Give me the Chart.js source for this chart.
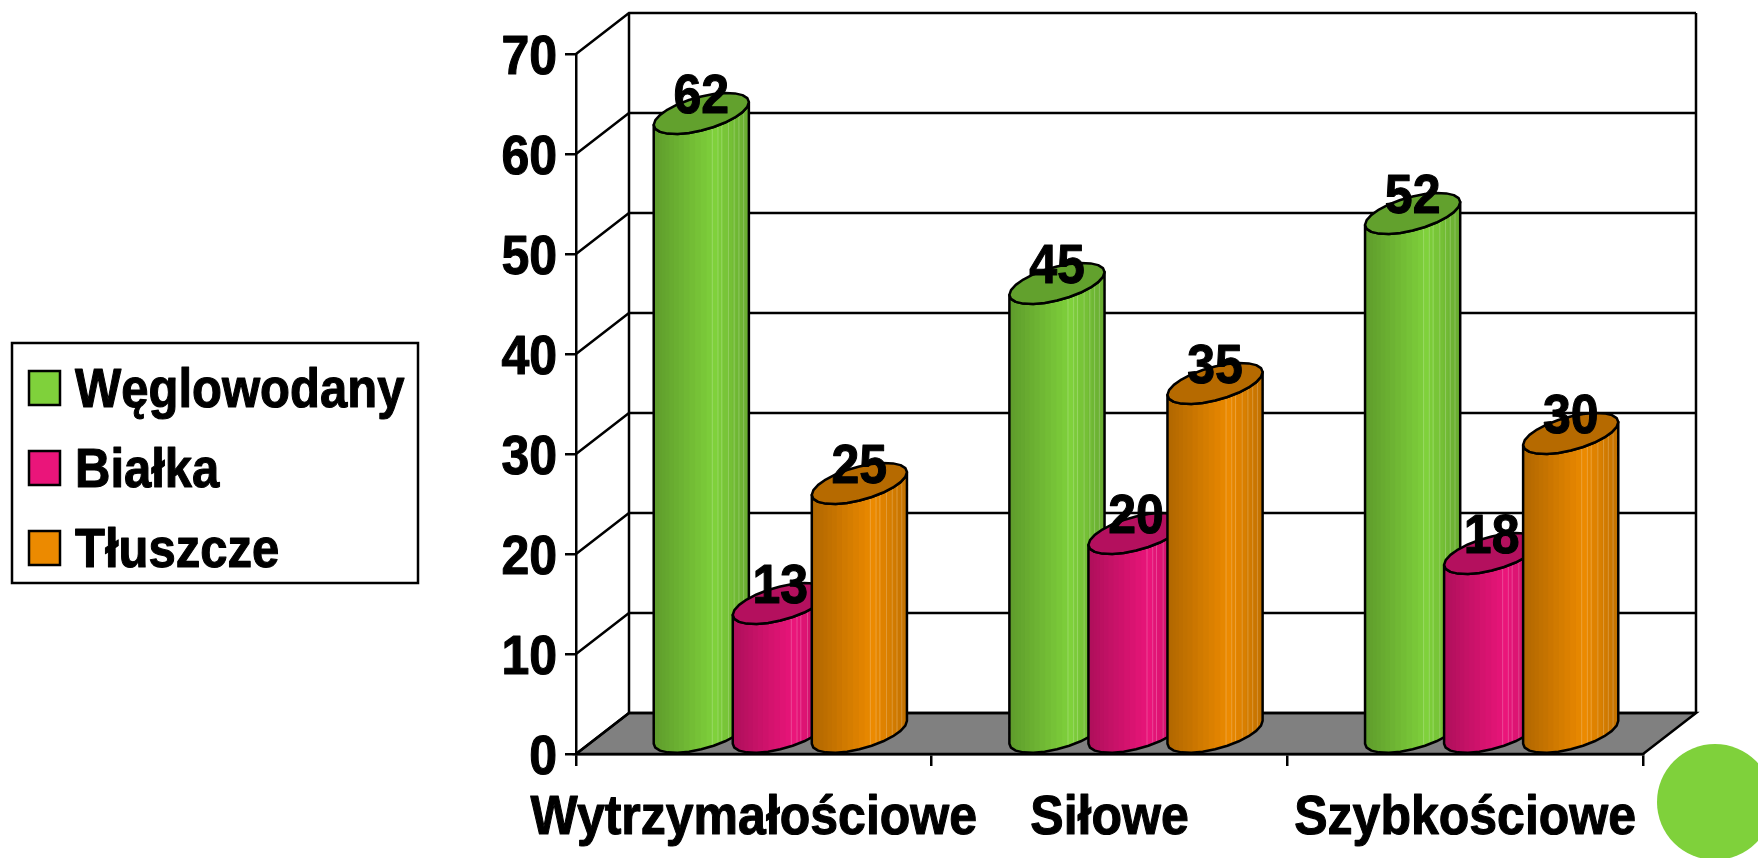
<!DOCTYPE html>
<html lang="pl">
<head>
<meta charset="utf-8">
<title>Wytrzymałościowe, siłowe, szybkościowe</title>
<script src="https://cdn.jsdelivr.net/npm/chart.js@4/dist/chart.umd.min.js"></script>
<style>
  html, body { margin: 0; background: #fff; overflow: hidden; }
  #wrap { position: relative; width: 1758px; height: 858px; overflow: hidden; }
  #chart { position: absolute; left: 0; top: 0; }
  .dot { position: absolute; left: 1657px; top: 744px; width: 116px; height: 116px; border-radius: 50%; background: #7fd13b; }
</style>
</head>
<body>
<div id="wrap">
  <canvas id="chart" width="1758" height="858"></canvas>
  <div class="dot"></div>
</div>
<script>
const categories = ["Wytrzymałościowe", "Siłowe", "Szybkościowe"];
const weglowodany = [62, 45, 52];
const bialka = [13, 20, 18];
const tluszcze = [25, 35, 30];
const seriesNames = ["Węglowodany", "Białka", "Tłuszcze"];
const seriesColors = ["#7fd13b", "#ea157a", "#ec8a00"];

const FONT = '"Liberation Sans", Arial, sans-serif';
// how far the back wall sits from the front plane
const DEPTH_X = 53;
const DEPTH_Y = 41;
const ARC_STEPS = 24;
const FACETS = 26;
const SEAMS = [0.61, 0.67, 0.71, 0.78, 0.84, 0.89, 0.94];
const LINE = 2.5;

function shade(hex, k) {
  const n = parseInt(hex.slice(1), 16);
  const c = s => Math.round(((n >> s) & 255) * k);
  return `rgb(${c(16)},${c(8)},${c(0)})`;
}

// brightness across the cylinder, f = 0 at the left edge, 1 at the right
function light(f) {
  if (f < 0.65) return 0.74 + (1 - 0.74) * (f / 0.65);
  return 1 - 0.18 * ((f - 0.65) / 0.35);
}

function polygon(ctx, pts) {
  ctx.beginPath();
  pts.forEach((p, i) => i ? ctx.lineTo(p[0], p[1]) : ctx.moveTo(p[0], p[1]));
}

// all labels are heavy and slightly taller than the font
function tallText(ctx, str, x, y, align, size) {
  ctx.save();
  ctx.translate(x, y);
  ctx.scale(1, 1.12);
  ctx.font = `bold ${size}px ${FONT}`;
  ctx.textAlign = align;
  ctx.textBaseline = "alphabetic";
  ctx.fillStyle = "#000";
  ctx.strokeStyle = "#000";
  ctx.lineWidth = 1;
  ctx.lineJoin = "round";
  ctx.fillText(str, 0, 0);
  ctx.strokeText(str, 0, 0);
  ctx.restore();
}

function drawCylinder(ctx, bar, color) {
  const { x, y, base, width } = bar.getProps(["x", "y", "base", "width"], true);
  const cx = x + DEPTH_X / 2;
  const topY = y - DEPTH_Y / 2;
  const botY = base - DEPTH_Y / 2;
  const a = width / 2, b = DEPTH_X / 2;
  const r = Math.hypot(a, b);
  const t0 = Math.atan2(b, a) + Math.PI;

  // rim points, starting at the left silhouette and going round the front
  const rim = cy => {
    const pts = [];
    for (let i = 0; i <= ARC_STEPS; i++) {
      const t = t0 + i * 2 * Math.PI / ARC_STEPS;
      pts.push([cx + a * Math.cos(t) + b * Math.sin(t), cy - DEPTH_Y / 2 * Math.sin(t)]);
    }
    return pts;
  };
  const half = ARC_STEPS / 2;
  const topRim = rim(topY);
  const side = rim(botY).slice(0, half + 1).concat(topRim.slice(0, half + 1).reverse());

  ctx.save();
  polygon(ctx, side);
  ctx.closePath();
  ctx.save();
  ctx.clip();
  const y0 = topY - DEPTH_Y, h = botY - topY + DEPTH_Y * 2;
  for (let i = 0; i < FACETS; i++) {
    const f0 = (1 - Math.cos(Math.PI * i / FACETS)) / 2;
    const f1 = (1 - Math.cos(Math.PI * (i + 1) / FACETS)) / 2;
    ctx.fillStyle = shade(color, light((f0 + f1) / 2));
    ctx.fillRect(cx - r + f0 * 2 * r - 0.5, y0, (f1 - f0) * 2 * r + 1, h);
  }
  ctx.fillStyle = "rgba(255,255,255,0.22)";
  SEAMS.forEach(f => ctx.fillRect(cx - r + f * 2 * r, y0, 1, h));
  ctx.restore();

  ctx.strokeStyle = "#000";
  ctx.lineWidth = LINE;
  ctx.lineJoin = "round";
  polygon(ctx, side);
  ctx.closePath();
  ctx.stroke();

  polygon(ctx, topRim);
  ctx.closePath();
  ctx.fillStyle = shade(color, 0.77);
  ctx.fill();
  ctx.stroke();
  ctx.restore();
}

const cylinders = {
  id: "cylinders",

  // floor, walls and grid lines of the box
  beforeDatasetsDraw(chart) {
    const { ctx, chartArea: { left, right, top, bottom }, scales: { y } } = chart;
    ctx.save();
    ctx.strokeStyle = "#000";
    ctx.lineWidth = LINE;

    ctx.beginPath();
    ctx.moveTo(left, bottom);
    ctx.lineTo(right, bottom);
    ctx.lineTo(right + DEPTH_X, bottom - DEPTH_Y);
    ctx.lineTo(left + DEPTH_X, bottom - DEPTH_Y);
    ctx.closePath();
    ctx.fillStyle = "#808080";
    ctx.fill();
    ctx.stroke();

    y.ticks.forEach(t => {
      const py = y.getPixelForValue(t.value);
      ctx.beginPath();
      ctx.moveTo(left, py);
      ctx.lineTo(left + DEPTH_X, py - DEPTH_Y);
      ctx.lineTo(right + DEPTH_X, py - DEPTH_Y);
      ctx.stroke();
    });

    ctx.beginPath();
    ctx.moveTo(left + DEPTH_X, top - DEPTH_Y);
    ctx.lineTo(left + DEPTH_X, bottom - DEPTH_Y);
    ctx.moveTo(right + DEPTH_X, top - DEPTH_Y);
    ctx.lineTo(right + DEPTH_X, bottom - DEPTH_Y);
    ctx.stroke();
    ctx.restore();
  },

  // the flat bars are not painted, their elements only give the geometry
  beforeDatasetDraw() {
    return false;
  },

  afterDatasetsDraw(chart) {
    const { ctx, scales: { x, y } } = chart;
    const metas = chart.data.datasets.map((ds, i) => chart.getDatasetMeta(i));

    // left to right inside a group, so the later series sits in front
    metas.forEach((meta, i) => {
      meta.data.forEach(bar => drawCylinder(ctx, bar, chart.data.datasets[i].backgroundColor));
    });

    chart.data.datasets.forEach((ds, i) => {
      metas[i].data.forEach((bar, j) => {
        tallText(ctx, String(ds.data[j]), bar.x + DEPTH_X / 2, bar.y - 21, "center", 50);
      });
    });

    // tick labels, taken from the scales
    y.ticks.forEach((t, i) => {
      tallText(ctx, t.label, x.left - 19, y.getPixelForTick(i) + 20, "right", 50);
    });
    x.ticks.forEach((t, i) => {
      tallText(ctx, t.label, x.getPixelForTick(i), 834, "center", 50);
    });

    // legend box on the left
    ctx.save();
    ctx.strokeStyle = "#000";
    ctx.lineWidth = LINE;
    ctx.strokeRect(12, 343, 406, 240);
    chart.data.datasets.forEach((ds, i) => {
      const rowY = 371 + i * 80;
      ctx.fillStyle = ds.backgroundColor;
      ctx.fillRect(29, rowY, 31, 34);
      ctx.strokeRect(29, rowY, 31, 34);
      tallText(ctx, ds.label, 75, rowY + 36, "left", 49);
    });
    ctx.restore();
  }
};

new Chart(document.getElementById("chart"), {
  type: "bar",
  data: {
    labels: categories,
    datasets: [
      { label: seriesNames[0], data: weglowodany, backgroundColor: seriesColors[0] },
      { label: seriesNames[1], data: bialka, backgroundColor: seriesColors[1] },
      { label: seriesNames[2], data: tluszcze, backgroundColor: seriesColors[2] }
    ]
  },
  plugins: [cylinders],
  options: {
    responsive: false,
    animation: false,
    layout: { padding: { top: 54, right: 115, left: 0, bottom: 0 } },
    datasets: { bar: { categoryPercentage: 2 / 3, barPercentage: 1 } },
    plugins: { legend: { display: false }, tooltip: { enabled: false } },
    scales: {
      x: {
        afterFit: s => { s.height = 104; },
        border: { color: "#000", width: LINE },
        grid: { drawOnChartArea: false, color: "#000", lineWidth: LINE, tickLength: 12 },
        ticks: { display: false, autoSkip: false, maxRotation: 0, minRotation: 0 }
      },
      y: {
        min: 0,
        max: 70,
        afterFit: s => { s.width = 576; },
        border: { color: "#000", width: LINE },
        grid: { drawOnChartArea: false, color: "#000", lineWidth: LINE, tickLength: 11 },
        ticks: { display: false, stepSize: 10 }
      }
    }
  }
});
</script>
</body>
</html>
